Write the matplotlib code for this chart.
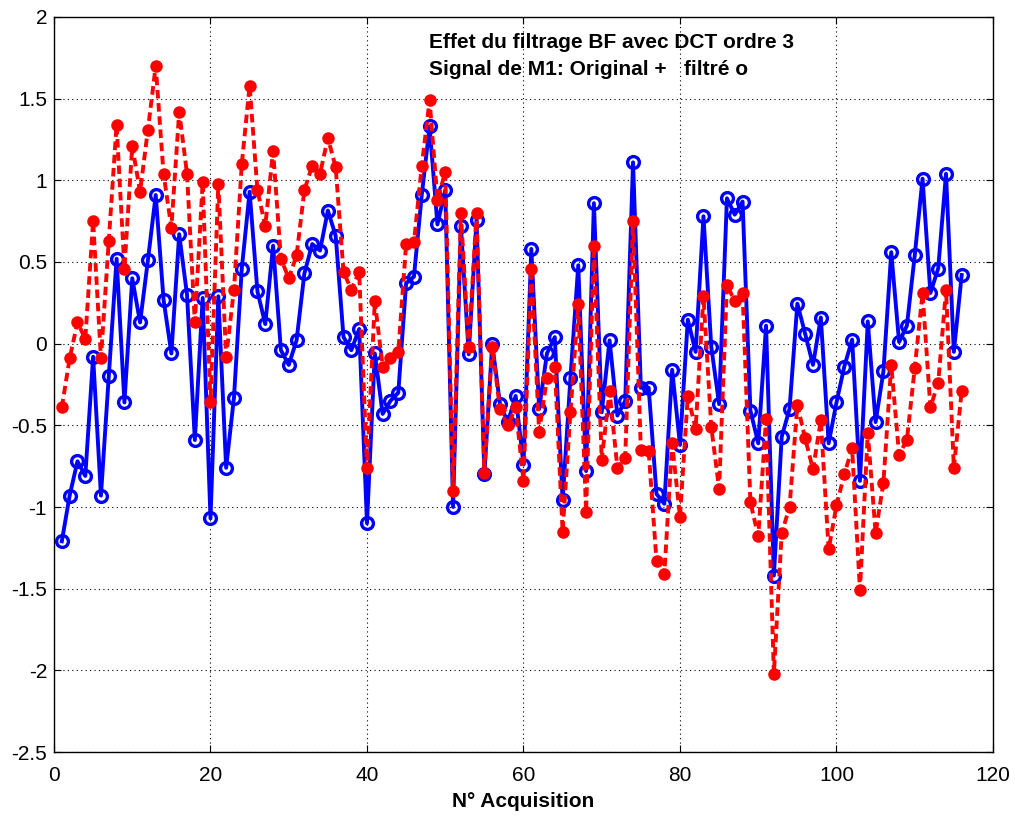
import numpy as np
import matplotlib
matplotlib.use("Agg")
import matplotlib.pyplot as plt

plt.rcParams["font.family"] = ["Liberation Sans", "DejaVu Sans"]
plt.rcParams["axes.unicode_minus"] = False

# original signal (blue circles, solid)
original = [
    -1.21, -0.93, -0.72, -0.81, -0.08, -0.93, -0.20, 0.52, -0.36, 0.40,
    0.13, 0.51, 0.91, 0.27, -0.06, 0.67, 0.30, -0.59, 0.28, -1.07,
    0.29, -0.76, -0.33, 0.46, 0.93, 0.32, 0.12, 0.60, -0.04, -0.13,
    0.02, 0.43, 0.61, 0.57, 0.815, 0.66, 0.04, -0.04, 0.09, -1.10,
    -0.06, -0.43, -0.35, -0.30, 0.37, 0.41, 0.91, 1.33, 0.73, 0.94,
    -1.00, 0.72, -0.065, 0.76, -0.80, 0.00, -0.37, -0.48, -0.32, -0.74,
    0.58, -0.40, -0.06, 0.04, -0.96, -0.21, 0.48, -0.78, 0.86, -0.42,
    0.02, -0.44, -0.35, 1.11, -0.27, -0.27, -0.92, -0.98, -0.16, -0.62,
    0.147, -0.05, 0.78, -0.02, -0.37, 0.89, 0.79, 0.87, -0.41, -0.61,
    0.11, -1.42, -0.57, -0.40, 0.245, 0.06, -0.13, 0.16, -0.61, -0.36,
    -0.14, 0.025, -0.84, 0.136, -0.48, -0.17, 0.56, 0.01, 0.11, 0.54,
    1.01, 0.31, 0.46, 1.04, -0.05, 0.42,
]

# filtered signal (red dots, dashed)
filtered = [
    -0.39, -0.09, 0.13, 0.03, 0.75, -0.09, 0.63, 1.34, 0.46, 1.21,
    0.93, 1.31, 1.70, 1.04, 0.71, 1.42, 1.04, 0.13, 0.99, -0.36,
    0.98, -0.08, 0.33, 1.10, 1.58, 0.94, 0.72, 1.18, 0.52, 0.40,
    0.54, 0.94, 1.09, 1.04, 1.26, 1.08, 0.44, 0.33, 0.44, -0.76,
    0.26, -0.14, -0.09, -0.05, 0.61, 0.62, 1.09, 1.49, 0.88, 1.05,
    -0.90, 0.80, -0.02, 0.80, -0.79, -0.02, -0.40, -0.50, -0.39, -0.84,
    0.46, -0.54, -0.21, -0.14, -1.15, -0.42, 0.24, -1.03, 0.60, -0.71,
    -0.29, -0.76, -0.70, 0.75, -0.65, -0.66, -1.33, -1.41, -0.61, -1.06,
    -0.32, -0.52, 0.29, -0.51, -0.89, 0.36, 0.26, 0.31, -0.97, -1.18,
    -0.46, -2.02, -1.16, -1.00, -0.375, -0.58, -0.77, -0.47, -1.26, -0.99,
    -0.80, -0.64, -1.51, -0.545, -1.16, -0.85, -0.13, -0.68, -0.59, -0.15,
    0.31, -0.39, -0.24, 0.33, -0.76, -0.29,
]

n = np.arange(1, len(original) + 1)

fig = plt.figure(figsize=(10.15, 8.16), dpi=100)
ax = fig.add_axes([0.0532, 0.0784, 0.9251, 0.9008])

ax.plot(n, original, "-o", color="#0000ff", lw=2.8, ms=8.5, mfc="none", mew=2.4)
ax.plot(n, filtered, "--o", color="#ff0000", lw=2.8, ms=7.5, mfc="#ff0000", mew=1.5,
        dashes=(2.2, 1.2))

ax.set_xlim(0, 120)
ax.set_ylim(-2.5, 2)
ax.set_xticks(np.arange(0, 121, 20))
ax.set_yticks(np.arange(-2.5, 2.01, 0.5))
ax.set_yticklabels(["-2.5", "-2", "-1.5", "-1", "-0.5", "0", "0.5", "1", "1.5", "2"])
ax.grid(True, color="black", linestyle=(0, (1, 3)), linewidth=0.8)
ax.tick_params(direction="in", top=True, right=True, labelsize=15, length=5)
ax.tick_params(axis="x", pad=10)
ax.tick_params(axis="y", pad=5)
for s in ax.spines.values():
    s.set_linewidth(1.0)

ax.set_xlabel("N° Acquisition", fontsize=15, fontweight="bold", labelpad=5)

ax.text(0.3994, 0.958, "Effet du filtrage BF avec DCT ordre 3", transform=ax.transAxes,
        fontsize=15, fontweight="bold", va="baseline")
ax.text(0.3994, 0.921, "Signal de M1: Original +   filtré o", transform=ax.transAxes,
        fontsize=15, fontweight="bold", va="baseline")

fig.savefig("out.png", dpi=100)
